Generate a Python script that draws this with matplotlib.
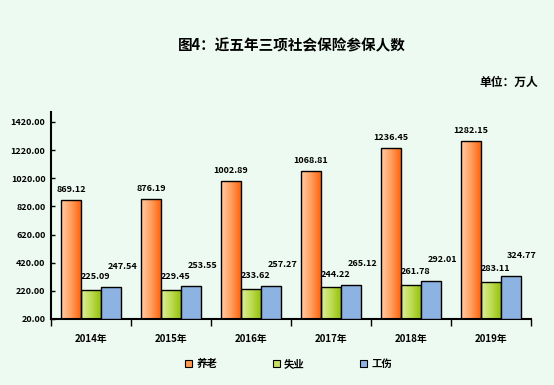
import numpy as np
import matplotlib
matplotlib.use("Agg")
import matplotlib.pyplot as plt
from matplotlib.patches import Patch
from matplotlib.colors import LinearSegmentedColormap

plt.rcParams['font.family'] = ['Noto Sans CJK SC', 'DejaVu Sans']

years = ["2014年", "2015年", "2016年", "2017年", "2018年", "2019年"]
pension = [869.12, 876.19, 1002.89, 1068.81, 1236.45, 1282.15]
unemployment = [225.09, 229.45, 233.62, 244.22, 261.78, 283.11]
injury = [247.54, 253.55, 257.27, 265.12, 292.01, 324.77]
series_names = ["养老", "失业", "工伤"]

bg = "#EDFAF2"
orange_cmap = LinearSegmentedColormap.from_list("o", ["#FFCBA6", "#FFA060", "#FF6410"])
green_cmap = LinearSegmentedColormap.from_list("g", ["#DDEDA0", "#BEDD55", "#96C20E"])
blue_color = "#8DB3E2"

fig = plt.figure(figsize=(5.54, 3.85), dpi=100, facecolor=bg)
ax = fig.add_axes([51 / 554, 66 / 385, 480 / 554, 207 / 385])
ax.set_facecolor(bg)

x = np.arange(len(years))
w = 0.25
base = 20

def gradient_bars(bars, cmap):
    grad = np.linspace(0, 1, 64).reshape(1, -1)
    for b in bars:
        bx, by = b.get_x(), b.get_y()
        bw, bh = b.get_width(), b.get_height()
        im = ax.imshow(grad, cmap=cmap, aspect="auto", extent=[bx, bx + bw, by, by + bh],
                       zorder=2, interpolation="bilinear")
        im.set_clip_path(b)
        b.set_facecolor("none")

b1 = ax.bar(x - w, np.array(pension) - base, w, bottom=base, edgecolor="black", lw=1, zorder=3)
b2 = ax.bar(x, np.array(unemployment) - base, w, bottom=base, edgecolor="black", lw=1, zorder=3)
b3 = ax.bar(x + w, np.array(injury) - base, w, bottom=base, facecolor=blue_color,
            edgecolor="black", lw=1, zorder=3)
gradient_bars(b1, orange_cmap)
gradient_bars(b2, green_cmap)

lbl = dict(fontsize=6.5, fontweight="bold", ha="center", va="center",
           textcoords="offset points", family=['Noto Sans CJK SC', 'DejaVu Sans'])
for i in range(len(years)):
    ax.annotate(f"{pension[i]:.2f}", (x[i] - w, pension[i]), xytext=(0, 7.5), **lbl)
    ax.annotate(f"{unemployment[i]:.2f}", (x[i], unemployment[i]), xytext=(3.5, 9.5), **lbl)
    ax.annotate(f"{injury[i]:.2f}", (x[i] + w, injury[i]), xytext=(8, 15), **lbl)

ax.set_xlim(-0.5, len(years) - 0.5)
ax.set_ylim(20, 1491)
yt = np.arange(20, 1421, 200)
ax.set_yticks(yt)
ax.set_yticklabels([f"{v:.2f}" for v in yt], fontsize=6.5, fontweight="bold")
ax.tick_params(axis="y", direction="in", length=3, width=1, pad=4)

ax.set_xticks(np.arange(len(years) + 1) - 0.5)
ax.set_xticklabels([])
ax.tick_params(axis="x", which="major", direction="out", length=5, width=1)
ax.set_xticks(x, minor=True)
ax.set_xticklabels(years, minor=True, fontsize=7, fontweight="bold")
ax.tick_params(axis="x", which="minor", length=0, pad=11)

for s in ["top", "right"]:
    ax.spines[s].set_visible(False)
for s in ["left", "bottom"]:
    ax.spines[s].set_linewidth(1.5)

fig.text(0.527, 0.883, "图4：近五年三项社会保险参保人数", fontsize=10.5, fontweight="bold",
         ha="center", va="center")
fig.text(0.972, 0.785, "单位：万人", fontsize=8.5, fontweight="bold", ha="right", va="center")

handles = [Patch(facecolor="#FF9A50", edgecolor="black", lw=0.8),
           Patch(facecolor="#C6E060", edgecolor="black", lw=0.8),
           Patch(facecolor=blue_color, edgecolor="black", lw=0.8)]
leg = fig.legend(handles, series_names, loc="center", bbox_to_anchor=(0.521, 0.055), ncol=3,
                 frameon=False, prop={"size": 7.5, "weight": "bold"},
                 handlelength=0.7, handleheight=0.7, handletextpad=0.4, columnspacing=5.3)

fig.savefig("out.png", dpi=100, facecolor=bg)
